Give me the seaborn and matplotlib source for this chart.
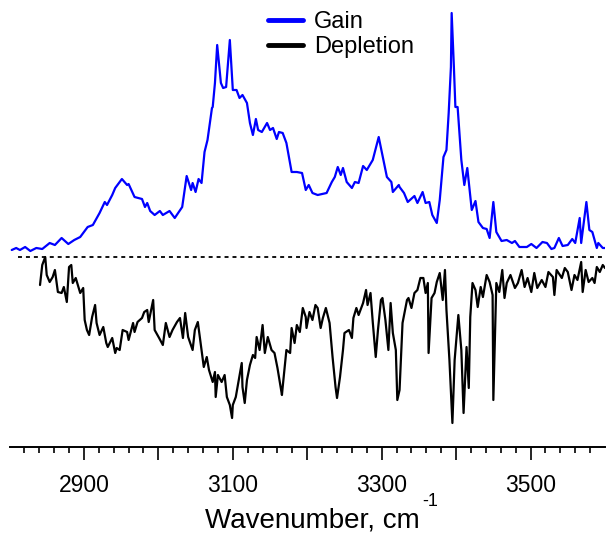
import matplotlib
matplotlib.use("Agg")
import matplotlib.pyplot as plt
import seaborn as sns
import numpy as np
import pandas as pd
from matplotlib.ticker import FixedLocator

# ---------------- data ----------------
gain_wn = [2803, 2809, 2814, 2821, 2828, 2836, 2844, 2854, 2861, 2870, 2879, 2887, 2895,
           2905, 2912, 2921, 2928, 2931, 2938, 2942, 2951, 2958, 2960, 2968, 2978, 2982,
           2985, 2989, 2995, 3002, 3006, 3015, 3022, 3032, 3038, 3044, 3046, 3050, 3054,
           3058, 3062, 3066, 3072, 3073, 3076, 3079, 3084, 3087, 3091, 3096, 3100, 3105,
           3109, 3113, 3119, 3123, 3127, 3131, 3134, 3139, 3146, 3150, 3154, 3159, 3162,
           3167, 3172, 3179, 3186, 3193, 3198, 3202, 3207, 3214, 3226, 3233, 3237, 3241,
           3245, 3248, 3253, 3260, 3264, 3269, 3275, 3280, 3288, 3296, 3301, 3307, 3313,
           3315, 3323, 3324, 3330, 3335, 3344, 3348, 3355, 3359, 3364, 3368, 3374, 3378,
           3383, 3387, 3390, 3393, 3394, 3397, 3399, 3402, 3407, 3411, 3415, 3421, 3426,
           3430, 3436, 3441, 3445, 3450, 3454, 3461, 3468, 3475, 3479, 3485, 3495, 3501,
           3508, 3516, 3522, 3528, 3532, 3538, 3543, 3550, 3556, 3560, 3566, 3568, 3575,
           3579, 3583, 3589, 3591, 3597, 3600]
gain_val = [7, 9, 7, 10, 6, 9, 8, 14, 12, 19, 13, 17, 20,
            30, 32, 44, 55, 52, 62, 69, 78, 72, 73, 60, 58, 50,
            54, 46, 42, 46, 42, 46, 39, 50, 81, 67, 74, 65, 78,
            74, 105, 117, 149, 150, 174, 212, 174, 169, 170, 217, 167, 167,
            159, 162, 154, 134, 122, 138, 127, 125, 134, 127, 129, 118, 125,
            124, 114, 85, 85, 84, 67, 72, 64, 62, 64, 75, 80, 90,
            82, 89, 75, 69, 75, 74, 91, 87, 97, 120, 102, 80, 75,
            65, 72, 70, 64, 55, 61, 54, 65, 54, 55, 42, 34, 57,
            100, 107, 144, 190, 244, 190, 150, 150, 97, 72, 89, 47, 56,
            35, 29, 28, 19, 55, 25, 16, 17, 14, 16, 10, 10, 13,
            9, 15, 14, 8, 9, 19, 11, 12, 18, 14, 39, 14, 55,
            27, 25, 9, 14, 9, 9]

depl_wn = [2841, 2844, 2848, 2850, 2854, 2858, 2861, 2865, 2870, 2873, 2877, 2880, 2883,
           2885, 2889, 2895, 2899, 2901, 2904, 2907, 2911, 2915, 2917, 2921, 2926, 2930,
           2932, 2938, 2942, 2944, 2948, 2952, 2958, 2960, 2966, 2968, 2972, 2978, 2981,
           2985, 2987, 2993, 2995, 3001, 3006, 3010, 3015, 3019, 3025, 3029, 3033, 3036,
           3040, 3046, 3049, 3053, 3058, 3061, 3065, 3068, 3073, 3076, 3077, 3080, 3085,
           3089, 3092, 3096, 3099, 3100, 3104, 3108, 3112, 3113, 3116, 3119, 3123, 3127,
           3130, 3132, 3136, 3140, 3143, 3147, 3152, 3156, 3160, 3166, 3167, 3172, 3177,
           3179, 3183, 3186, 3190, 3194, 3198, 3199, 3203, 3207, 3211, 3214, 3218, 3221,
           3225, 3230, 3234, 3238, 3240, 3244, 3248, 3250, 3256, 3260, 3262, 3266, 3269,
           3275, 3279, 3281, 3285, 3288, 3292, 3295, 3299, 3301, 3305, 3309, 3312, 3315,
           3319, 3321, 3324, 3328, 3334, 3336, 3340, 3344, 3348, 3352, 3356, 3359, 3362,
           3363, 3367, 3371, 3374, 3378, 3382, 3385, 3387, 3391, 3395, 3398, 3403, 3407,
           3410, 3414, 3417, 3419, 3422, 3426, 3429, 3433, 3436, 3441, 3445, 3449, 3450,
           3454, 3458, 3462, 3465, 3468, 3473, 3479, 3483, 3488, 3492, 3496, 3501, 3505,
           3509, 3515, 3520, 3524, 3530, 3532, 3535, 3542, 3546, 3550, 3555, 3559, 3563,
           3568, 3570, 3574, 3578, 3583, 3586, 3589, 3593, 3597, 3600]
depl_val = [-28, -8, 0, -18, -25, -20, -13, -35, -36, -30, -45, -10, -8,
            -26, -21, -36, -31, -63, -73, -78, -60, -48, -66, -78, -70, -86,
            -90, -81, -96, -91, -93, -73, -75, -83, -66, -75, -65, -61, -55,
            -53, -65, -43, -73, -81, -88, -66, -80, -73, -65, -61, -81, -56,
            -80, -93, -73, -65, -93, -110, -100, -113, -125, -115, -140, -118, -125,
            -118, -140, -148, -161, -148, -140, -123, -106, -130, -146, -123, -108, -98,
            -101, -80, -93, -68, -96, -80, -93, -96, -111, -138, -130, -93, -96,
            -71, -86, -68, -75, -51, -60, -71, -55, -63, -48, -51, -71, -61,
            -51, -66, -100, -130, -141, -120, -93, -76, -73, -81, -61, -51, -58,
            -46, -33, -48, -36, -65, -100, -73, -43, -41, -63, -93, -46, -76,
            -93, -143, -133, -66, -43, -41, -51, -36, -33, -21, -21, -36, -26,
            -96, -41, -36, -25, -16, -43, -13, -53, -103, -166, -103, -58, -93,
            -156, -90, -131, -60, -26, -33, -50, -30, -40, -18, -25, -38, -143,
            -26, -35, -13, -41, -26, -18, -31, -26, -13, -30, -21, -35, -16,
            -31, -23, -30, -15, -20, -38, -13, -21, -11, -15, -33, -18, -23,
            -5, -35, -13, -25, -21, -26, -10, -15, -8, -11]

major_ticks = [2900, 3000, 3100, 3200, 3300, 3400, 3500]
tick_labels = ["2900", "", "3100", "", "3300", "", "3500"]
series_names = ["Gain", "Depletion"]

# ---------------- figure ----------------
sns.set_style("white")
plt.rcParams["font.family"] = ["Liberation Sans", "DejaVu Sans"]
plt.rcParams["text.color"] = "black"
plt.rcParams["axes.labelcolor"] = "black"
plt.rcParams["xtick.color"] = "black"

fig = plt.figure(figsize=(6.07, 5.35), dpi=100)
ax = fig.add_axes([9.5 / 607, 88.5 / 535, 595.5 / 607, 446.5 / 535])

gain_df = pd.DataFrame({"wn": gain_wn, "val": gain_val})
depl_df = pd.DataFrame({"wn": depl_wn, "val": depl_val})

sns.lineplot(data=gain_df, x="wn", y="val", ax=ax, color="#0000ff", lw=1.6,
             estimator=None, label=series_names[0])
sns.lineplot(data=depl_df, x="wn", y="val", ax=ax, color="black", lw=1.6,
             estimator=None, label=series_names[1])

ax.axhline(0, xmin=0.014, xmax=1.0, color="black", lw=1.3, ls=(0, (2.2, 2.2)))

ax.set_xlim(2800, 3600)
ax.set_ylim(-189.5, 257)

for s in ["top", "left", "right"]:
    ax.spines[s].set_visible(False)
ax.spines["bottom"].set_linewidth(1.4)
ax.spines["bottom"].set_color("black")

ax.set_yticks([])
ax.xaxis.set_major_locator(FixedLocator(major_ticks))
ax.set_xticklabels(tick_labels)
ax.xaxis.set_minor_locator(FixedLocator([v for v in range(2820, 3601, 20) if v % 100 != 0]))
ax.tick_params(axis="x", which="major", direction="out", length=9.5, width=1.2,
               color="black", labelcolor="black", labelsize=16.5, pad=10, bottom=True)
ax.tick_params(axis="x", which="minor", direction="out", length=4.5, width=1.2,
               color="black", bottom=True)

ax.set_xlabel("Wavenumber, cm", fontsize=20, labelpad=8, color="black",
              x=(312 - 9.5) / 595.5)
ax.set_ylabel("")
# superscript of the unit, raised as in the reference
fig.text(422 / 607, 1 - 506 / 535, "-1", fontsize=13, ha="left", va="baseline",
         color="black")

leg = ax.legend(loc="upper left", bbox_to_anchor=(268 / 607, 1 - 11 / 535),
                bbox_transform=fig.transFigure, frameon=False, fontsize=17,
                handlelength=1.5, handletextpad=0.45, labelspacing=0.12,
                borderpad=0, borderaxespad=0)
for line in leg.get_lines():
    line.set_linewidth(3.5)
for t in leg.get_texts():
    t.set_color("black")

fig.savefig("out.png", dpi=100)
